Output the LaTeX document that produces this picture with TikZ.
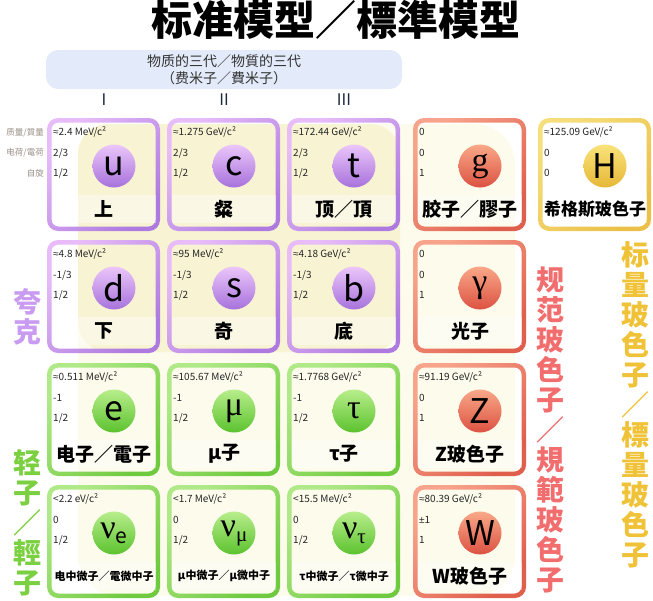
\documentclass[tikz,border=0pt]{standalone}
\usepackage{fontspec}
\setmainfont{Noto Sans CJK SC}
\newfontfamily\serifsym{Liberation Serif}
\newfontfamily\titlefont{Noto Sans CJK SC Black}
\newfontfamily\signfont{Liberation Sans}
\usepackage{tikz}
\usetikzlibrary{calc}
\definecolor{quarkA}{HTML}{EBC6FA}
\definecolor{quarkB}{HTML}{A772DC}
\definecolor{quarkedgeA}{HTML}{E8BCF9}
\definecolor{quarkedgeB}{HTML}{AE7ADF}
\definecolor{leptonA}{HTML}{B8EE8C}
\definecolor{leptonB}{HTML}{5CC22E}
\definecolor{leptonedgeA}{HTML}{B0EA88}
\definecolor{leptonedgeB}{HTML}{70CA40}
\definecolor{gaugeA}{HTML}{F9A888}
\definecolor{gaugeB}{HTML}{DC5242}
\definecolor{gaugeedgeA}{HTML}{F8A48C}
\definecolor{gaugeedgeB}{HTML}{DF5E4C}
\definecolor{scalarA}{HTML}{F9E27A}
\definecolor{scalarB}{HTML}{E6B838}
\definecolor{scalaredgeA}{HTML}{F6DE7C}
\definecolor{scalaredgeB}{HTML}{EAC048}
\definecolor{propgray}{HTML}{9A8E86}
\definecolor{genblue}{HTML}{E3EBFA}
\definecolor{navy}{HTML}{1C2A3E}
\definecolor{backstrong}{HTML}{F8F4D3}
\definecolor{backlight}{HTML}{FCFBEC}
\definecolor{quarkside}{HTML}{C99CF2}
\definecolor{leptonside}{HTML}{7AD040}
\definecolor{gaugeside}{HTML}{F26E6E}
\definecolor{scalarside}{HTML}{F0C238}
% narrow signs
\newcommand{\approxsign}{{\signfont ≈}}
\newcommand{\pmsign}{{\signfont ±}}
% subscript of the neutrinos
\newcommand{\nusub}[1]{\raisebox{-5pt}{\fontsize{21}{21}\selectfont #1}}
\newcommand{\nufont}{\fontsize{11}{11}\selectfont}
\newcommand{\higgsfont}{\fontsize{17}{17}\selectfont}
% one cell: name, left, top, family, mass, charge, spin, symbol, label
\newcommand{\particle}[9]{%
  \node[cell] (#1) at ({#2+56.5},{#3+56.5}) {};
  \path[even odd rule,top color=#4edgeA,bottom color=#4edgeB,shading angle=45]
    [rounded corners=11pt] (#1.north west) rectangle (#1.south east)
    [rounded corners=7pt] ([shift={(4.5pt,-4.5pt)}]#1.north west) rectangle ([shift={(-4.5pt,4.5pt)}]#1.south east);
  \node[tag] (#1-name) at ([shift={(57pt,-91pt)}]#1.north west) {#9};
  \node[info] (#1-mass) at ([shift={(6pt,-14pt)}]#1.north west) {#5};
  \node[info] (#1-charge) at ([shift={(6pt,-35pt)}]#1.north west) {#6};
  \node[info] (#1-spin) at ([shift={(6pt,-55pt)}]#1.north west) {#7};
  \node[ball,top color=#4A,bottom color=#4B] (#1-ball) at ([shift={(67pt,-48pt)}]#1.north west) {#8};
}

\begin{document}
\begin{tikzpicture}[x=1pt,y=-1pt]
\tikzstyle{cell}=[rectangle,minimum width=113pt,minimum height=113pt,inner sep=0pt,outer sep=0pt]
\tikzstyle{info}=[anchor=west,inner sep=0pt,text=black!85,font=\fontsize{10}{11}\selectfont]
\tikzstyle{ball}=[circle,minimum size=43pt,inner sep=0pt,shading angle=45,font=\fontsize{34}{34}\selectfont]
\tikzstyle{tag}=[minimum width=104pt,minimum height=28pt,inner sep=0pt,fill=white,fill opacity=0.4,text opacity=1,font=\bfseries\fontsize{19}{19}\selectfont]
\tikzstyle{side}=[align=center,inner sep=0pt,font=\bfseries\fontsize{28}{30}\selectfont]
\tikzstyle{prop}=[anchor=east,inner sep=0pt,text=propgray,font=\fontsize{8.5}{9}\selectfont]

\useasboundingbox (0,0) rectangle (653,600);

% background
\fill[backlight,rounded corners=40pt] (78,124) rectangle (515,596);
\fill[backstrong,rounded corners=30pt] (78,124) rectangle (400,352);

% title and generations
\node (title) at (336,20) {\titlefont\fontsize{41}{41}\selectfont 标准模型／標準模型};
\node[fill=genblue,rounded corners=12pt,minimum width=356pt,minimum height=39pt,align=center,
      text=black!80,font=\fontsize{14}{17}\selectfont] (gen) at (224,69.5)
      {物质的三代／物質的三代\\（费米子／費米子）};
\node[text=navy,font=\fontsize{16}{16}\selectfont] (gen1) at (104,100) {I};
\node[text=navy,font=\fontsize{16}{16}\selectfont] (gen2) at (224,100) {II};
\node[text=navy,font=\fontsize{16}{16}\selectfont] (gen3) at (344,100) {III};

% row captions
\node[prop] (mass) at (44,133) {质量/質量};
\node[prop] (charge) at (44,153) {电荷/電荷};
\node[prop] (spin) at (44,173) {自旋};

% quarks
\particle{u}{47}{118}{quark}{\approxsign2.4 MeV/c²}{2/3}{1/2}{u}{上}
\particle{c}{167}{118}{quark}{\approxsign1.275 GeV/c²}{2/3}{1/2}{c}{粲}
\particle{t}{287}{118}{quark}{\approxsign172.44 GeV/c²}{2/3}{1/2}{t}{顶／頂}
\particle{d}{47}{240}{quark}{\approxsign4.8 MeV/c²}{-1/3}{1/2}{d}{下}
\particle{s}{167}{240}{quark}{\approxsign95 MeV/c²}{-1/3}{1/2}{s}{奇}
\particle{b}{287}{240}{quark}{\approxsign4.18 GeV/c²}{-1/3}{1/2}{b}{底}
% leptons
\particle{e}{47}{363}{lepton}{\approxsign0.511 MeV/c²}{-1}{1/2}{e}{电子／電子}
\particle{mu}{167}{363}{lepton}{\approxsign105.67 MeV/c²}{-1}{1/2}{\serifsym μ}{μ子}
\particle{tau}{287}{363}{lepton}{\approxsign1.7768 GeV/c²}{-1}{1/2}{\serifsym τ}{τ子}
\particle{nue}{47}{485}{lepton}{<2.2 eV/c²}{0}{1/2}{{\serifsym ν}\nusub{e}}{\nufont 电中微子／電微中子}
\particle{numu}{167}{485}{lepton}{<1.7 MeV/c²}{0}{1/2}{{\serifsym ν}\nusub{\serifsym μ}}{\nufont μ中微子／μ微中子}
\particle{nutau}{287}{485}{lepton}{<15.5 MeV/c²}{0}{1/2}{{\serifsym ν}\nusub{\serifsym τ}}{\nufont τ中微子／τ微中子}
% gauge bosons
\particle{g}{413}{118}{gauge}{0}{0}{1}{\serifsym g}{胶子／膠子}
\particle{gamma}{413}{240}{gauge}{0}{0}{1}{\serifsym γ}{光子}
\particle{Z}{413}{363}{gauge}{\approxsign91.19 GeV/c²}{0}{1}{Z}{Z玻色子}
\particle{W}{413}{485}{gauge}{\approxsign80.39 GeV/c²}{\pmsign1}{1}{W}{W玻色子}
% scalar boson
\particle{H}{538}{118}{scalar}{\approxsign125.09 GeV/c²}{0}{0}{H}{\higgsfont 希格斯玻色子}

% family captions
\node[side,text=quarkside] (quarks) at (27,317) {夸\\克};
\node[side,text=leptonside] (leptons) at (27,523) {轻\\子\\／\\輕\\子};
\node[side,text=gaugeside] (gauge) at (550,430) {规\\范\\玻\\色\\子\\／\\規\\範\\玻\\色\\子};
\node[side,text=scalarside] (scalar) at (635,405) {标\\量\\玻\\色\\子\\／\\標\\量\\玻\\色\\子};

\end{tikzpicture}
\end{document}
